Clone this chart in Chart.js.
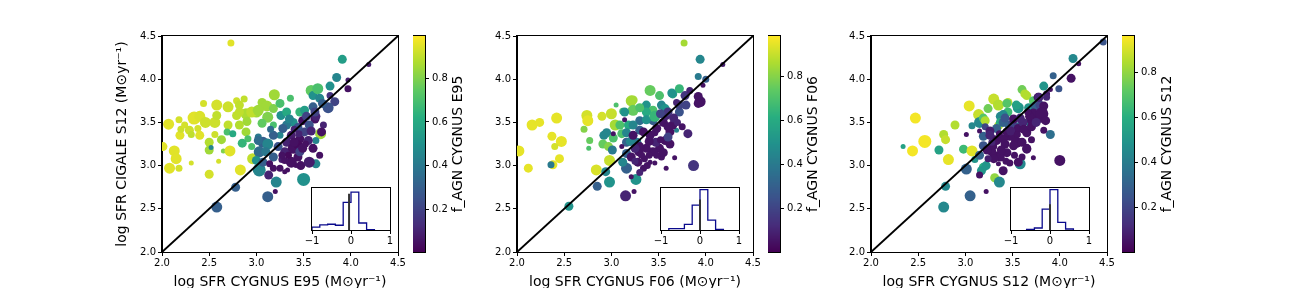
<!DOCTYPE html>
<html><head><meta charset="utf-8">
<script src="https://cdn.jsdelivr.net/npm/chart.js@4.4.1/dist/chart.umd.min.js"></script>
<style>
html,body{margin:0;padding:0;background:#fff;width:1296px;height:288px;overflow:hidden;position:relative;}
canvas{position:absolute;}
</style></head><body>
<script>
// ---------- DATA ----------
const axisTicks = [2.0, 2.5, 3.0, 3.5, 4.0, 4.5];
const cbTicks = [0.2, 0.4, 0.6, 0.8];
const insetTicks = [-1, 0, 1];
const insetTickLabels = ['\u22121', '0', '1'];
const diagX = [2.0, 4.5];
const diagY = [2.0, 4.5];

const xTitles = ['log SFR CYGNUS E95 (M\u2299yr\u207B\u00B9)', 'log SFR CYGNUS F06 (M\u2299yr\u207B\u00B9)', 'log SFR CYGNUS S12 (M\u2299yr\u207B\u00B9)'];
const yTitle = 'log SFR CIGALE S12 (M\u2299yr\u207B\u00B9)';
const cbTitles = ['f_AGN CYGNUS E95', 'f_AGN CYGNUS F06', 'f_AGN CYGNUS S12'];
const cbRanges = [[0.004, 0.994], [0.001, 0.985], [0.003, 0.963]];

// Panel 1: CYGNUS E95
const e95X = [2.73,2.01,2.07,2.08,2.13,2.15,2.18,2.18,2.19,2.20, 2.24,2.29,2.31,2.31,2.34,2.38,2.40,2.44,2.40,2.46, 2.50,2.50,2.52,2.50,2.58,2.56,2.58,2.56,2.63,2.60, 2.65,2.70,2.70,2.72,2.69,2.75,2.79,2.79,2.82,2.82, 2.83,2.87,2.89,2.89,2.91,2.95,2.96,3.00,3.06,3.11, 3.12,3.19,3.18,3.25,3.26,3.32,3.18,3.25,3.36,3.46, 3.39,3.51,3.58,3.60,3.65,3.67,3.78,3.85,3.91,2.85, 3.02,2.82,2.95,2.90,3.02,3.06,3.68,2.78,2.58,3.63, 3.07,3.12,3.03,3.00,3.03,3.07,3.18,3.21,3.12,3.63, 3.50,3.18,3.10,3.32,3.35,3.60,3.02,3.78,3.83,3.76, 3.97,3.97,4.19,3.71,3.69,3.62,3.20,3.13,3.25,3.30, 3.33,3.27,3.30,3.23,3.32,3.37,3.39,3.44,3.47,3.56, 3.46,3.51,3.44,3.49,3.56,3.55,3.60,3.42,3.37,3.63, 3.53,3.44,3.30,3.14,3.34,3.18,3.46,3.67,3.49, 3.62,3.70,3.28,3.15,3.40,3.45,3.52,3.27,3.58,3.40];
const e95Y = [4.42,3.22,3.48,2.97,3.17,3.08,2.97,3.53,3.35,3.42, 3.47,3.41,3.36,3.03,3.55,3.43,3.35,3.72,3.57,3.50, 3.27,3.18,3.21,2.90,3.70,3.50,3.58,3.36,3.30,3.05, 3.17,3.68,3.47,3.17,3.39,3.37,3.58,3.75,3.47,3.70, 2.95,3.77,3.60,3.39,3.31,3.22,3.08,3.62,3.73,3.69, 3.56,3.82,3.66,3.72,3.58,3.62,3.47,3.35,3.78,3.62, 3.50,3.64,3.87,3.81,3.89,3.78,3.92,4.02,4.23,3.26, 3.33,3.62,3.62,3.51,3.64,3.49,3.37,2.75,2.52,3.29, 3.27,3.25,3.16,3.06,2.95,3.04,3.10,2.81,2.64,3.02, 2.84,3.35,3.16,3.47,3.54,3.68,3.29,3.81,3.74,3.67, 3.89,3.99,4.17,3.47,3.39,3.54,2.70,2.89,2.97,2.93, 2.95,3.07,3.16,3.22,3.27,3.35,3.20,3.10,3.00,3.04, 3.31,3.39,3.44,3.52,3.47,3.29,3.20,3.00,3.04,3.57, 3.57,3.24,3.06,3.02,3.12,2.97,3.16,3.12,3.20, 3.62,3.72,3.43,3.42,3.27,3.37,3.25,3.12,3.40,3.42];
const e95F = [.95,.95,.95,.95,.95,.95,.93,.93,.95,.92, .93,.92,.90,.93,.95,.93,.95,.93,.94,.92, .88,.85,.45,.93,.93,.92,.90,.92,.85,.93, .80,.92,.90,.95,.70,.60,.90,.92,.88,.90, .95,.90,.87,.85,.70,.70,.90,.85,.85,.85, .80,.85,.80,.70,.50,.60,.70,.45,.70,.65, .50,.55,.75,.50,.70,.45,.50,.45,.55,.65, .40,.90,.90,.85,.85,.75,.85,.30,.30,.45, .30,.45,.35,.50,.45,.30,.30,.45,.30,.45, .50,.30,.40,.40,.45,.30,.35,.15,.20,.25, .05,.08,.08,.10,.05,.05,.05,.10,.05,.05, .05,.08,.10,.25,.10,.08,.05,.05,.05,.08, .05,.20,.25,.05,.25,.10,.05,.05,.05,.10, .20,.03,.05,.05,.03,.05,.20,.05,.05, .20,.30,.30,.35,.05,.10,.05,.05,.10,.10];
const e95W = [2,3,4,4,4,4,2,2,3,2, 2,3,2,1,5,2,3,2,4,4, 3,3,1,3,4,4,3,2,3,1, 1,4,3,4,2,2,3,2,3,3, 4,2,4,3,2,2,4,4,3,4, 4,4,3,3,3,3,2,2,2,3, 3,3,4,3,4,3,3,3,3,3, 2,3,4,3,4,3,4,3,4,2, 4,4,4,3,5,3,3,4,4,3, 5,3,3,3,3,3,3,2,3,4, 2,1,1,2,3,3,1,3,2,1, 1,2,3,3,3,3,4,3,3,4, 3,3,3,3,3,3,3,1,4,3, 3,3,2,2,2,2,3,2,3, 3,3,3,2,3,2,2,2,3,2];

// Panel 2: CYGNUS F06
const f06X = [3.77,3.94,3.92,4.00,2.02,2.12,2.16,2.24,2.42,2.37, 2.47,2.40,2.45,2.38,2.36,2.55,2.74,2.75,2.71,2.77, 2.76,2.90,2.84,2.85,2.94,2.98,2.92,2.91,2.97,3.00, 3.04,3.05,3.01,2.98,3.12,3.11,3.16,3.21,3.23,3.16, 3.16,3.26,3.41,3.51,3.37,3.44,3.53,3.65,3.72,3.44, 3.30,3.27,3.72,3.79,3.72,3.18,3.23,3.09,3.37,3.12, 3.23,3.14,3.30,2.95,3.02,3.16,3.20,3.30,3.37,3.46, 3.57,3.64,3.69,3.97,4.18,3.02,3.21,3.15,3.24,3.21, 3.28,3.34,3.69,3.78,3.83,3.92,3.81,3.87,3.67,3.34, 3.41,3.48,3.55,3.58,3.62,3.57,3.51,3.44,3.37,3.23, 3.35,3.41,3.46,3.62,3.65,3.11,3.58,3.29,3.94,3.92, 3.14,3.30,3.47,3.40,3.53,3.60,3.25, 3.60,3.52,3.40,3.46,3.52,3.60,3.66,3.70,3.48,3.55, 3.32,3.38,3.25,3.75,3.30];
const f06Y = [4.42,4.23,4.03,4.00,3.17,2.97,3.47,3.50,3.55,3.34, 3.28,3.22,3.08,3.01,3.01,2.53,3.58,3.52,3.42,3.29, 3.20,3.57,2.95,2.76,2.93,2.81,3.35,3.25,3.22,3.60, 3.47,3.70,3.18,3.06,3.63,3.37,3.27,3.75,3.64,3.14, 2.97,2.84,3.87,3.81,3.70,3.64,3.70,3.83,3.89,3.52, 3.52,3.27,3.62,3.70,3.70,3.47,3.47,3.47,3.62,3.04, 3.76,3.62,3.67,3.38,3.32,3.38,3.28,3.41,3.53,3.57, 3.66,3.84,3.41,3.93,4.17,3.37,2.87,2.65,2.70,3.10, 3.04,2.97,3.73,3.81,3.87,3.72,3.37,3.00,3.09,3.39, 3.35,3.43,3.50,3.58,3.39,3.29,3.20,3.16,3.20,3.35, 3.08,3.04,3.03,3.25,3.47,3.22,2.97,3.16,3.74,3.80, 3.53,3.22,3.27,3.12,3.10,3.33,3.05, 3.62,3.60,3.28,3.38,3.30,3.45,3.55,3.50,3.12,3.15, 3.12,3.00,3.20,3.45,2.92];
const f06F = [.85,.45,.40,.30,.95,.95,.95,.95,.95,.95, .95,.92,.95,.95,.40,.50,.92,.95,.80,.75, .70,.92,.93,.30,.45,.50,.45,.75,.80,.90, .85,.70,.40,.90,.70,.70,.30,.85,.75,.30, .30,.50,.75,.70,.50,.70,.45,.55,.65,.30, .35,.40,.25,.20,.20,.60,.45,.70,.60,.45, .85,.50,.70,.45,.70,.45,.45,.30,.50,.65, .50,.50,.45,.05,.08,.05,.05,.10,.05,.05, .05,.05,.10,.15,.10,.05,.10,.15,.05,.05, .05,.05,.05,.10,.05,.05,.05,.05,.05,.05, .05,.05,.05,.05,.05,.05,.05,.05,.05,.05, .05,.05,.10,.05,.05,.20,.10, .15,.20,.05,.05,.05,.05,.10,.10,.05,.05, .05,.05,.10,.05,.10];
const f06W = [2,3,2,2,4,3,4,3,4,3, 4,2,3,3,2,3,4,4,2,2, 1,3,4,3,3,4,3,3,3,4, 4,1,3,4,2,3,3,4,4,3, 4,4,4,3,3,3,3,3,3,3, 3,3,3,3,3,3,3,3,3,3, 3,3,3,3,3,3,3,3,3,4, 3,3,1,1,1,1,1,4,1,3, 3,2,2,3,2,3,3,4,1,3, 3,3,3,3,3,3,3,3,3,3, 2,1,1,3,3,1,1,3,4,3, 1,3,3,2,2,3,2, 3,3,3,2,2,3,3,2,2,3, 2,2,3,2,2];

// Panel 3: CYGNUS S12
const s12X = [4.14,3.93,3.83,2.47,2.34,2.44,2.57,2.72,2.77,2.79, 2.82,2.79,2.77,2.89,2.98,3.07,3.10,3.01,3.05,3.04, 3.14,3.30,3.35,3.24,3.45,3.60,3.63,3.56,3.45,3.37, 3.15,3.19,3.07,3.35,3.21,3.44,3.54,3.65,3.72,3.67, 3.40,3.37,3.19,3.17,3.31,3.36,3.58,3.90,3.68,3.74, 3.58,3.40,3.19,3.19,3.46,3.33,3.15,3.75,3.22,3.99, 4.46,3.79,3.21,3.50,3.42,4.20,4.12,3.90,3.86,3.01, 3.15,3.26,3.15,3.22,3.40,3.56,3.72,4.00,3.83,3.79, 3.83,3.86,3.65,3.72,3.77,3.47,3.54,3.44,3.33,3.47, 3.65,3.51,3.31,3.26,3.26,3.33,3.40,3.51,3.56,3.61, 3.70,3.81,3.37,3.28,3.30,3.51,3.60,3.65,3.44,3.68, 3.78,3.23, 3.30,3.42,3.48,3.55,3.62,3.58,3.66,3.70,3.75,3.36, 3.28,3.38,3.52,3.43,3.60,3.24,3.35,3.70,3.85];
const s12Y = [4.24,4.04,3.92,3.55,3.22,3.17,3.28,3.18,3.36,3.30, 3.07,2.76,2.52,3.47,3.19,3.17,3.07,2.96,2.65,3.69, 3.59,3.77,3.70,3.66,3.73,3.88,3.83,3.67,3.62,3.57, 3.50,3.55,3.46,3.46,3.52,3.72,3.70,3.81,3.75,3.67, 3.59,3.50,2.98,2.94,2.86,2.81,3.02,3.36,3.50,3.69, 3.46,3.50,3.23,3.34,3.47,3.43,3.12,3.58,3.00,3.89, 4.43,3.70,3.45,3.48,3.55,4.18,4.01,3.88,3.83,3.36, 3.40,3.40,2.89,2.70,2.94,3.04,3.09,3.06,3.41,3.57, 3.69,3.79,3.38,3.61,3.79,3.34,3.27,3.15,3.11,3.03, 3.19,3.54,3.30,3.19,3.35,3.29,3.31,3.35,3.43,3.50, 3.52,3.60,3.10,3.16,3.08,3.23,3.27,3.20,3.39,3.57, 3.79,3.18, 3.22,3.25,3.40,3.36,3.42,3.55,3.62,3.45,3.50,3.37, 3.27,3.18,3.12,3.05,3.10,3.08,3.02,3.30,3.52];
const s12F = [.45,.30,.50,.95,.55,.95,.95,.55,.85,.88, .93,.45,.45,.85,.65,.92,.50,.30,.30,.93, .88,.88,.85,.75,.85,.75,.85,.50,.65,.45, .45,.70,.45,.85,.85,.70,.55,.85,.70,.50, .45,.60,.60,.50,.80,.45,.45,.35,.45,.30, .30,.30,.25,.30,.30,.30,.30,.35,.50,.25, .25,.20,.20,.20,.25,.05,.05,.05,.08,.05, .05,.08,.05,.05,.05,.05,.05,.05,.05,.05, .05,.10,.05,.05,.05,.05,.05,.05,.05,.05, .05,.05,.05,.05,.10,.05,.05,.05,.05,.10, .05,.05,.05,.05,.05,.05,.05,.05,.05,.05, .10,.05, .05,.05,.08,.05,.05,.10,.05,.05,.10,.05, .10,.05,.05,.05,.05,.08,.05,.05,.05];
const s12W = [3,2,3,4,1,4,5,3,3,3, 4,3,4,3,3,4,2,4,4,4, 4,4,4,3,3,3,3,4,3,3, 4,3,2,3,3,3,3,3,3,3, 3,3,3,3,3,4,4,3,3,3, 3,3,3,3,3,3,3,3,3,2, 2,3,2,3,3,1,3,1,2,1, 1,3,2,1,3,3,1,4,2,5, 3,2,3,3,3,3,4,3,3,2, 3,3,3,3,3,3,3,4,3,3, 3,5,3,3,3,3,3,3,3,3, 3,3, 2,3,3,2,3,3,2,3,3,2, 2,3,2,2,2,2,1,2,3];

// Inset histograms of the log difference
const histEdges = [
  [-1.0,-0.8,-0.6,-0.4,-0.2,0.0,0.2,0.4,0.6],
  [-0.8,-0.6,-0.4,-0.2,0.0,0.2,0.4,0.6],
  [-0.6,-0.4,-0.2,0.0,0.2,0.4,0.6]
];
const histCounts = [
  [9,16,18,15,87,119,22,1],
  [4,4,17,75,122,30,2],
  [2,6,63,122,23,3]
];
const histMax = [132, 127, 127];
const medianX = [-0.05, 0.0, 0.0];
const medianH = [114, 92, 78];

const panelData = [
  {x: e95X, y: e95Y, f: e95F, w: e95W},
  {x: f06X, y: f06Y, f: f06F, w: f06W},
  {x: s12X, y: s12Y, f: s12F, w: s12W}
];

// ---------- LAYOUT / STYLE ----------
const plotLeft = [162, 517, 871];
const cbLeft = [413, 768, 1122];
const insetLeft = [312, 661, 1011];
const PLOT_W = 236, PLOT_TOP = 36, PLOT_BOTTOM = 252;
const FONT = "'DejaVu Sans', sans-serif";
Chart.defaults.font.family = FONT;
Chart.defaults.color = '#000';

const VIR = ['#440154','#472d7b','#3b528b','#2c728e','#21918c','#28ae80','#5ec962','#addc30','#fde725'];
function hex(h){return [parseInt(h.slice(1,3),16),parseInt(h.slice(3,5),16),parseInt(h.slice(5,7),16)];}
const VIRRGB = VIR.map(hex);
function viridis(t){
  t = Math.max(0, Math.min(1, t));
  const p = t * (VIRRGB.length - 1);
  const i = Math.min(Math.floor(p), VIRRGB.length - 2);
  const u = p - i;
  const a = VIRRGB[i], b = VIRRGB[i+1];
  return 'rgb(' + [0,1,2].map(k => Math.round(a[k] + (b[k]-a[k])*u)).join(',') + ')';
}

function mk(left, top, w, h){
  const c = document.createElement('canvas');
  c.width = w; c.height = h;
  c.style.left = left + 'px'; c.style.top = top + 'px';
  c.style.width = w + 'px'; c.style.height = h + 'px';
  document.body.appendChild(c);
  return c;
}

const boxPlugin = {
  id: 'box',
  afterDraw(chart){
    const a = chart.chartArea, ctx = chart.ctx;
    ctx.save();
    ctx.strokeStyle = '#000'; ctx.lineWidth = 1;
    ctx.strokeRect(Math.round(a.left) - 0.5, Math.round(a.top) - 0.5, Math.round(a.right - a.left) + 1, Math.round(a.bottom - a.top) + 1);
    ctx.restore();
  }
};
const whitePlugin = {
  id: 'white',
  beforeDraw(chart){
    const a = chart.chartArea, ctx = chart.ctx;
    ctx.save(); ctx.fillStyle = '#fff';
    ctx.fillRect(a.left, a.top, a.right - a.left, a.bottom - a.top);
    ctx.restore();
  }
};

function fixX(h){ return s => { s.height = h; s.paddingLeft = 0; s.paddingRight = 0; }; }
function fixY(w){ return s => { s.width = w; s.paddingTop = 0; s.paddingBottom = 0; }; }
function setTicks(arr){ return s => { s.ticks = arr.map(v => ({value: v})); }; }

function mainChart(i){
  const d = panelData[i];
  const [vmin, vmax] = cbRanges[i];
  const wy = i === 0 ? 48 : 30;
  const padR = 12, top = 28, padT = PLOT_TOP - top, xh = 39;
  const c = mk(plotLeft[i] - wy, top, wy + PLOT_W + padR, padT + (PLOT_BOTTOM - PLOT_TOP) + xh);
  new Chart(c, {
    type: 'scatter',
    data: {datasets: [
      {type: 'line', data: diagX.map((v, k) => ({x: v, y: diagY[k]})), borderColor: '#000', borderWidth: 2, pointRadius: 0, fill: false, clip: 0},
      {data: d.x.map((v, k) => ({x: v, y: d.y[k]})), clip: 0,
       pointRadius: ctx => 1.5 + d.w[ctx.dataIndex],
       pointBorderWidth: 0,
       pointBackgroundColor: ctx => viridis((d.f[ctx.dataIndex] - vmin) / (vmax - vmin)),
       pointBorderColor: 'rgba(0,0,0,0)'}
    ]},
    options: {
      responsive: false, animation: false, devicePixelRatio: 1, events: [],
      layout: {padding: {left: 0, right: padR, top: padT, bottom: 0}},
      plugins: {legend: {display: false}, tooltip: {enabled: false}},
      scales: {
        x: {type: 'linear', min: 2, max: 4.5, afterBuildTicks: setTicks(axisTicks), afterFit: fixX(xh),
            ticks: {font: {size: 10}, padding: 1, maxRotation: 0, callback: v => v.toFixed(1)},
            grid: {drawOnChartArea: false, tickLength: 4, color: '#000'}, border: {color: '#000'},
            title: {display: true, text: xTitles[i], font: {size: 14}, color: '#000', padding: 0}},
        y: {type: 'linear', min: 2, max: 4.5, afterBuildTicks: setTicks(axisTicks), afterFit: fixY(wy),
            ticks: {font: {size: 10}, padding: 2, callback: v => v.toFixed(1)},
            grid: {drawOnChartArea: false, tickLength: 4, color: '#000'}, border: {color: '#000'},
            title: {display: i === 0, text: yTitle, font: {size: 14}, color: '#000', padding: 0}}
      }
    },
    plugins: [boxPlugin]
  });
}

function colorbar(i){
  const [vmin, vmax] = cbRanges[i];
  const barW = 12, axW = 48, top = 28, padT = PLOT_TOP - top, padB = 4;
  const c = mk(cbLeft[i], top, barW + axW, padT + (PLOT_BOTTOM - PLOT_TOP) + padB);
  const grad = {
    id: 'grad',
    beforeDatasetsDraw(chart){
      const a = chart.chartArea, ctx = chart.ctx, ys = chart.scales.y;
      for (let py = Math.floor(a.top); py < Math.ceil(a.bottom); py++){
        const v = ys.getValueForPixel(py + 0.5);
        ctx.fillStyle = viridis((v - vmin) / (vmax - vmin));
        ctx.fillRect(a.left, py, a.right - a.left, 1);
      }
    },
    afterDraw(chart){
      const a = chart.chartArea, ctx = chart.ctx;
      ctx.save();
      ctx.translate(a.left + 45, (a.top + a.bottom) / 2);
      ctx.rotate(-Math.PI / 2);
      ctx.font = '14px ' + FONT;
      ctx.fillStyle = '#000';
      ctx.textAlign = 'center'; ctx.textBaseline = 'middle';
      ctx.fillText(cbTitles[i], 0, 0);
      ctx.restore();
    }
  };
  new Chart(c, {
    type: 'scatter',
    data: {datasets: [{data: []}]},
    options: {
      responsive: false, animation: false, devicePixelRatio: 1, events: [],
      layout: {padding: {left: 0, right: 0, top: padT, bottom: padB}},
      plugins: {legend: {display: false}, tooltip: {enabled: false}},
      scales: {
        x: {display: false, min: 0, max: 1},
        y: {position: 'right', min: vmin, max: vmax, afterBuildTicks: setTicks(cbTicks), afterFit: fixY(axW),
            ticks: {font: {size: 10}, padding: 3, callback: v => v.toFixed(1)},
            grid: {drawOnChartArea: false, tickLength: 4, color: '#000'}, border: {display: false}}
      }
    },
    plugins: [grad, boxPlugin]
  });
}

function inset(i){
  const left = insetLeft[i] - 12, top = 180, w = 78 + 24, padT = 8, boxH = 42, xh = 20;
  const c = mk(left, top, w, padT + boxH + xh);
  const edges = histEdges[i], counts = histCounts[i];
  const steps = [{x: edges[0], y: 0}];
  counts.forEach((n, k) => steps.push({x: edges[k], y: n}));
  steps.push({x: edges[edges.length - 1], y: 0});
  new Chart(c, {
    type: 'line',
    data: {datasets: [
      {data: [{x: medianX[i], y: 0}, {x: medianX[i], y: medianH[i]}], borderColor: '#333', borderWidth: 2, pointRadius: 0},
      {data: steps, stepped: 'before', borderColor: '#0a0a8c', borderWidth: 1.3, pointRadius: 0, fill: false}
    ]},
    options: {
      responsive: false, animation: false, devicePixelRatio: 1, events: [],
      layout: {padding: {left: 12, right: 12, top: padT, bottom: 0}},
      plugins: {legend: {display: false}, tooltip: {enabled: false}},
      scales: {
        x: {type: 'linear', min: -1, max: 1, afterBuildTicks: setTicks(insetTicks), afterFit: fixX(xh),
            ticks: {font: {size: 10}, padding: 1, maxRotation: 0, callback: v => insetTickLabels[insetTicks.indexOf(v)]},
            grid: {drawOnChartArea: false, tickLength: 4, color: '#000'}, border: {color: '#000'}},
        y: {display: false, min: 0, max: histMax[i]}
      }
    },
    plugins: [whitePlugin, boxPlugin]
  });
}

for (let i = 0; i < 3; i++) mainChart(i);
for (let i = 0; i < 3; i++) inset(i);
for (let i = 0; i < 3; i++) colorbar(i);
</script>
</body></html>
